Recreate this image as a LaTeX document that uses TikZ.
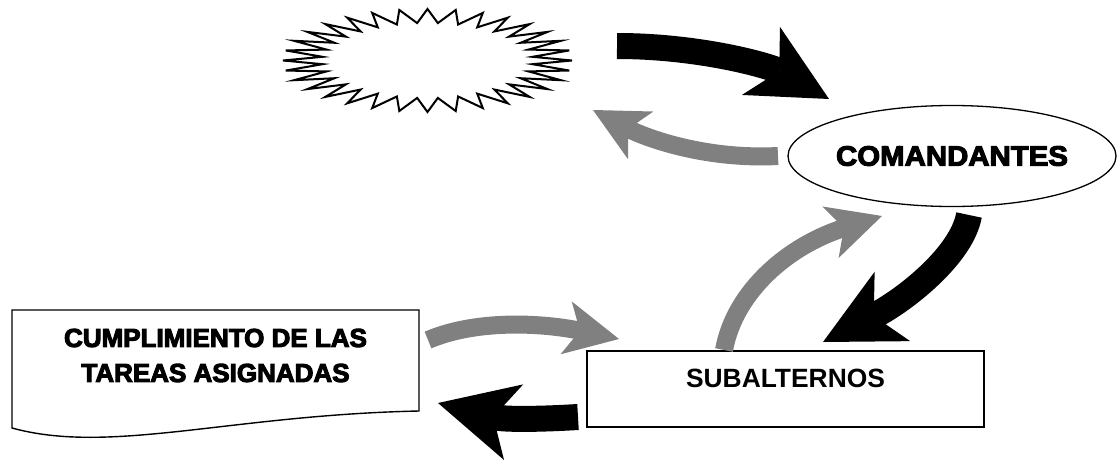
\documentclass[tikz,border=0pt]{standalone}
\usepackage{fontspec}
\setmainfont{Liberation Sans}
\newfontfamily\heavyfont[FakeBold=4]{Liberation Sans Bold}
\newfontfamily\wideheavyfont[FakeBold=4,FakeStretch=1.05]{Liberation Sans Bold}
\usetikzlibrary{arrows.meta,shapes.geometric}
\definecolor{arrowgray}{HTML}{808080}
\begin{document}
\begin{tikzpicture}[x=1pt,y=-1pt,
	blackarrow/.style={line width=26pt,-{Stealth[length=78pt,width=78pt,inset=21pt,line width=0pt]}},
	grayarrow/.style={arrowgray,line width=18pt,-{Stealth[length=54pt,width=54pt,inset=14pt,line width=0pt]}}]
	\useasboundingbox(0,0)rectangle(1118,460);
	% estrella
	\coordinate(star)at(427.5,60.5);
	\draw[line width=2pt,line join=miter,shift={(star)}](0:144.5 and 51.5)
		\foreach\k in{0,...,31}{--({\k*11.25+5.625}:105.5 and 37.6)--({\k*11.25+11.25}:144.5 and 51.5)}--cycle;
	\node[draw,ellipse,line width=1.3pt,minimum width=320pt,minimum height=101pt,inner sep=0pt,
		font=\wideheavyfont\fontsize{28}{34}\selectfont](cmd)at(952,156){COMANDANTES};
	\node[draw,line width=1.4pt,minimum width=397pt,inner xsep=0pt,inner ysep=17pt,
		text height=19pt,text depth=23pt,font=\bfseries\fontsize{26.4}{32}\selectfont](sub)at(785.5,389){SUBALTERNOS};
	% documento
	\draw[line width=1.4pt](12,310)--(419,310)--(419,411)..controls(230,415)and(110,455)..(12,428)--cycle;
	\node[align=center,inner sep=0pt,font=\heavyfont\fontsize{26}{35}\selectfont](tasks)at(215.5,355.5)
		{CUMPLIMIENTO DE LAS\\TAREAS ASIGNADAS};
	% extremos de las flechas
	\coordinate(a1)at(617,46); \coordinate(b1)at(829,99);
	\coordinate(a2)at(778,156); \coordinate(b2)at(593,110);
	\coordinate(a3)at(969,215); \coordinate(b3)at(823,342);
	\coordinate(a4)at(724,350); \coordinate(b4)at(882,216);
	\coordinate(a5)at(428,340); \coordinate(b5)at(619,339);
	\coordinate(a6)at(578,417); \coordinate(b6)at(438,403);
	\draw[blackarrow](a1)..controls(700,46)and(770,66)..(b1);
	\draw[grayarrow](a2)..controls(700,160)and(640,135)..(b2);
	\draw[blackarrow](a3)..controls(962,255)and(905,300)..(b3);
	\draw[grayarrow](a4)..controls(735,290)and(790,245)..(b4);
	\draw[grayarrow](a5)..controls(480,318)and(548,324)..(b5);
	\draw[blackarrow](a6)..controls(545,419)and(505,420)..(b6);
\end{tikzpicture}
\end{document}
